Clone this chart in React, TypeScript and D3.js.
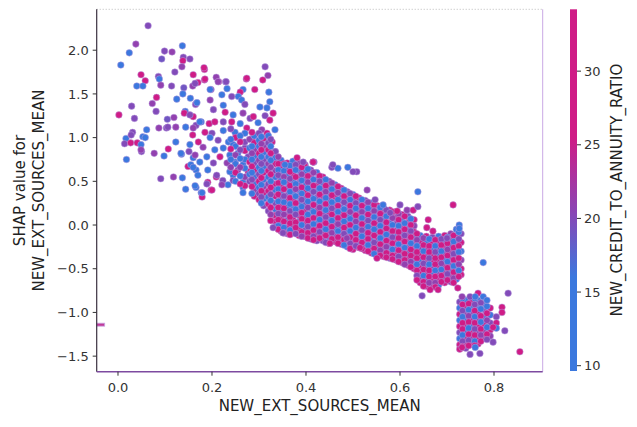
import React, { useEffect, useRef } from 'react';
import * as d3 from 'd3';

// [NEW_EXT_SOURCES_MEAN, SHAP value, NEW_CREDIT_TO_ANNUITY_RATIO]
const sparsePoints: [number, number, number][] = [
  [0.064, 2.28, 20], [0.038, 2.07, 21], [0.024, 1.97, 12], [0.006, 1.83, 13], [0.137, 2.05, 11],
  [0.099, 1.99, 20], [0.115, 1.98, 21], [0.093, 1.9, 19], [0.139, 1.92, 20], [0.153, 1.9, 20],
  [0.138, 1.88, 31], [0.136, 1.81, 21], [0.121, 1.75, 20], [0.184, 1.78, 30], [0.16, 1.72, 29],
  [0.049, 1.72, 32], [0.058, 1.65, 30], [0.086, 1.7, 20], [0.088, 1.67, 14], [0.04, 1.59, 12],
  [0.053, 1.59, 13], [0.091, 1.6, 21], [0.114, 1.59, 20], [0.14, 1.57, 19], [0.159, 1.59, 21],
  [0.17, 1.63, 30], [0.184, 1.66, 31], [0.198, 1.55, 20], [0.209, 1.69, 21], [0.214, 1.64, 29],
  [0.229, 1.64, 20], [0.273, 1.67, 30], [0.082, 1.46, 31], [0.138, 1.5, 12], [0.154, 1.45, 11],
  [0.125, 1.44, 13], [0.029, 1.36, 20], [0.073, 1.39, 21], [0.081, 1.3, 20], [0.002, 1.26, 30],
  [0.035, 1.22, 20], [0.087, 1.11, 21], [0.103, 1.11, 20], [0.105, 1.21, 19], [0.119, 1.23, 21],
  [0.143, 1.3, 12], [0.165, 1.38, 20], [0.061, 1.09, 12], [0.053, 1.01, 11], [0.058, 1.0, 13],
  [0.031, 1.06, 20], [0.017, 0.99, 12], [0.014, 0.93, 20], [0.027, 0.94, 31], [0.041, 0.94, 30],
  [0.049, 0.92, 12], [0.05, 0.84, 20], [0.077, 0.82, 21], [0.107, 0.87, 30], [0.098, 0.79, 12],
  [0.018, 0.75, 11], [0.135, 0.81, 13], [0.091, 0.53, 20], [0.118, 0.55, 21], [0.137, 0.54, 12],
  [0.144, 0.41, 13], [0.149, 0.67, 30], [0.141, 1.28, 30], [0.144, 1.12, 12], [0.16, 1.24, 31],
  [0.166, 1.14, 20], [0.177, 1.18, 12], [0.194, 1.16, 30], [0.106, 1.12, 20], [0.123, 1.12, 21],
  [0.028, 1.03, 20], [0.049, 0.86, 21], [0.123, 0.95, 12], [0.134, 0.82, 12], [0.151, 0.84, 20],
  [0.16, 0.77, 12], [0.155, 0.69, 13], [0.166, 0.63, 12], [0.17, 0.57, 11], [0.166, 0.43, 12],
  [0.177, 0.37, 12], [0.179, 0.32, 30], [0.191, 0.49, 31], [0.198, 0.4, 30], [0.209, 0.55, 29],
  [0.223, 0.51, 20], [0.234, 0.46, 12], [0.245, 0.57, 12], [0.266, 0.49, 13], [0.279, 0.59, 20],
  [0.294, 0.42, 12], [0.315, 0.31, 12], [0.332, 0.4, 21], [0.372, 0.55, 20],
  [0.183, 1.8, 30], [0.313, 1.81, 20], [0.319, 1.71, 21], [0.274, 1.68, 31], [0.308, 1.66, 30],
  [0.23, 1.64, 20], [0.185, 1.67, 30], [0.164, 1.62, 20], [0.213, 1.64, 21], [0.291, 1.55, 31],
  [0.321, 1.52, 12], [0.266, 1.55, 12], [0.26, 1.52, 30], [0.232, 1.56, 12], [0.196, 1.55, 13],
  [0.221, 1.49, 12], [0.242, 1.47, 20], [0.256, 1.47, 12], [0.263, 1.43, 11], [0.323, 1.41, 12],
  [0.196, 1.43, 21], [0.168, 1.4, 12], [0.224, 1.37, 12], [0.27, 1.38, 20], [0.302, 1.35, 12],
  [0.317, 1.34, 13], [0.33, 1.28, 30], [0.203, 1.32, 20], [0.228, 1.29, 30], [0.245, 1.26, 12],
  [0.266, 1.28, 21], [0.281, 1.22, 20], [0.288, 1.24, 31], [0.313, 1.25, 20], [0.323, 1.2, 30],
  [0.153, 1.26, 20], [0.174, 1.18, 12], [0.206, 1.18, 30], [0.224, 1.18, 20], [0.242, 1.18, 31],
  [0.26, 1.16, 12], [0.298, 1.17, 12], [0.274, 1.11, 30], [0.16, 1.11, 21], [0.185, 1.06, 30],
  [0.2, 1.05, 20], [0.224, 1.08, 12], [0.249, 1.06, 13], [0.306, 1.09, 21], [0.334, 1.09, 12],
  [0.317, 1.05, 30], [0.159, 1.03, 31], [0.196, 1.0, 12], [0.213, 0.97, 20], [0.235, 0.95, 12],
  [0.257, 0.99, 12], [0.285, 0.99, 30], [0.302, 0.95, 20], [0.328, 0.95, 31], [0.171, 0.95, 30],
  [0.153, 0.92, 12], [0.181, 0.89, 21], [0.206, 0.86, 12], [0.224, 0.88, 13], [0.245, 0.92, 12],
  [0.27, 0.88, 20], [0.291, 0.9, 21], [0.313, 0.86, 20], [0.334, 0.84, 20], [0.164, 0.8, 21],
  [0.189, 0.78, 12], [0.217, 0.78, 30], [0.238, 0.8, 12], [0.255, 0.82, 11], [0.277, 0.78, 20],
  [0.298, 0.78, 31], [0.323, 0.78, 30], [0.174, 0.72, 12], [0.203, 0.71, 20], [0.232, 0.71, 21],
  [0.249, 0.72, 12], [0.266, 0.69, 12], [0.288, 0.71, 13], [0.309, 0.71, 20], [0.334, 0.72, 12],
  [0.16, 0.66, 12], [0.191, 0.63, 12], [0.21, 0.57, 20], [0.238, 0.61, 12], [0.255, 0.63, 21],
  [0.277, 0.61, 30], [0.298, 0.61, 12], [0.319, 0.63, 12], [0.359, 0.66, 20], [0.38, 0.74, 30],
  [0.398, 0.69, 21], [0.417, 0.72, 20], [0.245, 0.51, 20], [0.266, 0.43, 12], [0.288, 0.54, 21],
  [0.306, 0.51, 12], [0.328, 0.54, 20], [0.164, 0.45, 12], [0.189, 0.47, 20], [0.2, 0.4, 30],
  [0.221, 0.46, 21], [0.266, 0.37, 12], [0.179, 0.37, 13], [0.313, 0.31, 12],
];

// dense columns: [ext mean, shap values, credit/annuity ratios]
const coreColumns: [number, number[], number[]][] = [
  [0.25, [1.0, 0.9, 0.8, 0.7, 0.6, 0.5], [30, 12, 21, 12, 31, 12]],
  [0.27, [1.05, 0.95, 0.85, 0.75, 0.65, 0.55, 0.45], [12, 20, 30, 12, 12, 21, 30]],
  [0.28, [0.98, 0.88, 0.72, 0.58, 0.5], [21, 12, 30, 12, 20]],
  [0.29, [1.02, 0.94, 0.86, 0.79, 0.71, 0.63, 0.55, 0.47, 0.4, 0.33], [12, 30, 21, 12, 20, 30, 12, 13, 21, 30]],
  [0.3, [1.05, 0.97, 0.9, 0.82, 0.74, 0.66, 0.58, 0.5, 0.43, 0.36, 0.29], [20, 12, 12, 30, 21, 12, 20, 31, 12, 20, 30]],
  [0.31, [0.99, 0.91, 0.83, 0.75, 0.67, 0.6, 0.52, 0.44, 0.37, 0.3, 0.22], [30, 21, 12, 20, 12, 30, 12, 21, 30, 12, 20]],
  [0.32, [1.02, 0.94, 0.86, 0.78, 0.7, 0.62, 0.55, 0.47, 0.39, 0.32, 0.24, 0.16], [12, 20, 30, 12, 21, 31, 12, 20, 30, 12, 31, 20]],
  [0.335, [0.84, 0.77, 0.7, 0.62, 0.55, 0.47, 0.4, 0.33, 0.25, 0.18, 0.11, 0.04, -0.02], [20, 12, 30, 21, 12, 31, 13, 29, 20, 12, 30, 31, 20]],
  [0.347, [0.74, 0.67, 0.6, 0.52, 0.45, 0.38, 0.3, 0.23, 0.16, 0.08, 0.01, -0.07], [12, 30, 20, 13, 31, 12, 20, 30, 12, 29, 21, 30]],
  [0.36, [0.71, 0.64, 0.56, 0.49, 0.42, 0.34, 0.27, 0.2, 0.12, 0.05, -0.03, -0.1], [30, 21, 12, 30, 12, 20, 31, 12, 30, 12, 31, 20]],
  [0.372, [0.73, 0.66, 0.59, 0.51, 0.44, 0.37, 0.29, 0.22, 0.15, 0.07, 0.0, -0.08], [12, 20, 30, 12, 21, 12, 30, 13, 12, 30, 20, 31]],
  [0.385, [0.7, 0.62, 0.55, 0.48, 0.4, 0.33, 0.26, 0.18, 0.11, 0.04, -0.04, -0.12], [21, 12, 31, 20, 12, 30, 12, 21, 30, 12, 31, 30]],
  [0.398, [0.67, 0.6, 0.52, 0.45, 0.38, 0.3, 0.23, 0.16, 0.08, 0.01, -0.06, -0.13], [30, 12, 20, 12, 31, 12, 20, 30, 12, 29, 20, 30]],
  [0.41, [0.63, 0.56, 0.49, 0.41, 0.34, 0.27, 0.19, 0.12, 0.05, -0.03, -0.1, -0.16], [20, 30, 12, 21, 12, 30, 13, 20, 30, 12, 31, 20]],
  [0.423, [0.6, 0.52, 0.45, 0.38, 0.31, 0.23, 0.16, 0.09, 0.02, -0.05, -0.12, -0.18], [12, 21, 30, 12, 20, 12, 30, 21, 12, 30, 31, 20]],
  [0.436, [0.55, 0.48, 0.41, 0.33, 0.26, 0.19, 0.12, 0.04, -0.03, -0.1, -0.18], [30, 12, 20, 31, 12, 12, 21, 30, 12, 30, 20]],
  [0.449, [0.5, 0.43, 0.36, 0.29, 0.22, 0.14, 0.07, 0.0, -0.07, -0.14, -0.21], [20, 30, 12, 21, 12, 30, 12, 20, 31, 12, 30]],
  [0.462, [0.46, 0.39, 0.32, 0.25, 0.17, 0.1, 0.03, -0.04, -0.11, -0.19], [12, 20, 30, 12, 21, 12, 30, 13, 20, 30]],
  [0.475, [0.42, 0.35, 0.28, 0.2, 0.13, 0.06, -0.02, -0.09, -0.16, -0.22], [30, 12, 20, 12, 30, 21, 12, 30, 20, 31]],
  [0.488, [0.38, 0.31, 0.24, 0.17, 0.09, 0.02, -0.05, -0.12, -0.19, -0.25], [20, 30, 12, 21, 12, 30, 13, 20, 30, 12]],
  [0.5, [0.35, 0.28, 0.21, 0.13, 0.06, -0.01, -0.08, -0.15, -0.22, -0.28], [12, 21, 30, 12, 20, 30, 12, 21, 30, 31]],
  [0.513, [0.31, 0.24, 0.17, 0.1, 0.03, -0.05, -0.12, -0.19, -0.26], [30, 12, 20, 31, 12, 20, 30, 12, 30]],
  [0.526, [0.28, 0.21, 0.14, 0.06, -0.01, -0.08, -0.15, -0.22, -0.29], [20, 30, 12, 21, 30, 12, 31, 20, 30]],
  [0.539, [0.25, 0.18, 0.11, 0.03, -0.04, -0.11, -0.18, -0.25, -0.32], [12, 20, 30, 12, 30, 21, 12, 30, 31]],
  [0.552, [0.22, 0.15, 0.08, 0.0, -0.07, -0.14, -0.21, -0.28, -0.35], [30, 12, 21, 30, 12, 30, 20, 12, 30]],
  [0.565, [0.19, 0.12, 0.05, -0.03, -0.1, -0.17, -0.24, -0.31, -0.36], [21, 30, 12, 20, 30, 12, 31, 20, 30]],
  [0.578, [0.17, 0.1, 0.02, -0.05, -0.12, -0.19, -0.26, -0.33, -0.38], [30, 20, 12, 30, 21, 30, 12, 30, 20]],
  [0.591, [0.15, 0.08, 0.01, -0.07, -0.14, -0.21, -0.28, -0.35, -0.4], [12, 30, 21, 30, 12, 30, 20, 31, 30]],
  [0.604, [0.12, 0.05, -0.02, -0.09, -0.16, -0.23, -0.3, -0.37, -0.43], [30, 12, 30, 20, 31, 12, 30, 21, 30]],
  [0.617, [0.1, 0.03, -0.05, -0.12, -0.19, -0.26, -0.33, -0.4, -0.46], [20, 30, 12, 30, 21, 30, 12, 30, 31]],
  [0.63, [0.06, -0.01, -0.08, -0.15, -0.22, -0.29, -0.36, -0.43, -0.5], [30, 21, 30, 12, 30, 20, 31, 12, 30]],
  [0.643, [-0.12, -0.19, -0.26, -0.33, -0.4, -0.47, -0.54, -0.61, -0.66], [12, 30, 20, 30, 12, 31, 30, 21, 30]],
  [0.656, [-0.13, -0.2, -0.27, -0.34, -0.41, -0.48, -0.55, -0.62, -0.7], [30, 12, 31, 21, 30, 12, 30, 20, 31]],
  [0.669, [-0.14, -0.21, -0.28, -0.35, -0.42, -0.49, -0.56, -0.63, -0.7], [20, 30, 12, 30, 31, 20, 12, 30, 30]],
  [0.682, [-0.13, -0.2, -0.27, -0.34, -0.41, -0.48, -0.55, -0.62, -0.69], [12, 31, 20, 12, 30, 30, 21, 30, 12]],
  [0.695, [-0.12, -0.19, -0.26, -0.33, -0.4, -0.47, -0.54, -0.61, -0.66], [30, 12, 30, 21, 12, 30, 31, 20, 30]],
  [0.708, [-0.1, -0.17, -0.24, -0.31, -0.38, -0.45, -0.52, -0.59, -0.65], [21, 30, 12, 30, 20, 31, 12, 30, 21]],
  [0.72, [-0.05, -0.13, -0.2, -0.27, -0.34, -0.41, -0.48, -0.55, -0.62], [12, 30, 20, 12, 31, 30, 20, 30, 12]],
  [0.73, [-0.1, -0.2, -0.3, -0.4, -0.5, -0.57], [20, 30, 12, 21, 30, 31]],
  [0.727, [-0.88, -0.95, -1.02, -1.09, -1.16, -1.23, -1.3, -1.37, -1.42], [20, 12, 30, 12, 31, 20, 12, 30, 31]],
  [0.74, [-0.86, -0.93, -1.0, -1.07, -1.14, -1.21, -1.28, -1.35, -1.41], [12, 30, 21, 12, 30, 12, 31, 30, 20]],
  [0.753, [-0.87, -0.94, -1.01, -1.08, -1.15, -1.22, -1.29, -1.36], [30, 12, 20, 30, 12, 30, 21, 30]],
  [0.766, [-0.86, -0.93, -1.0, -1.08, -1.15, -1.23, -1.3, -1.36], [12, 12, 30, 21, 30, 20, 30, 31]],
  [0.779, [-0.9, -0.97, -1.05, -1.13, -1.22, -1.3], [12, 20, 12, 30, 21, 30]],
  [0.792, [-0.95, -1.03, -1.12, -1.2, -1.27], [30, 12, 20, 30, 21]],
  [0.805, [-1.05, -1.12, -1.18], [20, 30, 12]],
];

// second pass over the same dense areas, between the columns above
const fillColumns: [number, number[], number[]][] = [
  [0.24, [1.1, 0.98, 0.87, 0.75, 0.66], [20, 12, 30, 12, 21]],
  [0.26, [1.02, 0.95, 0.86, 0.76, 0.66, 0.56, 0.47], [12, 30, 20, 12, 21, 12, 30]],
  [0.285, [1.06, 0.9, 0.82, 0.75, 0.67, 0.6, 0.52, 0.44, 0.36], [30, 12, 21, 12, 30, 12, 20, 31, 12]],
  [0.305, [1.01, 0.93, 0.86, 0.78, 0.7, 0.62, 0.54, 0.46, 0.39, 0.32, 0.25], [12, 21, 30, 12, 20, 12, 31, 12, 30, 20, 12]],
  [0.325, [0.98, 0.9, 0.82, 0.74, 0.66, 0.58, 0.5, 0.43, 0.35, 0.28, 0.2, 0.12, 0.05], [20, 12, 30, 12, 21, 31, 12, 30, 20, 12, 30, 21, 30]],
  [0.341, [0.78, 0.7, 0.63, 0.57, 0.48, 0.41, 0.35, 0.27, 0.2, 0.13, 0.06, -0.01, -0.05], [21, 30, 12, 20, 30, 12, 31, 12, 30, 20, 30, 12, 30]],
  [0.353, [0.7, 0.62, 0.55, 0.49, 0.41, 0.33, 0.26, 0.19, 0.12, 0.04, -0.03, -0.09], [30, 12, 21, 12, 30, 20, 12, 30, 21, 30, 12, 31]],
  [0.366, [0.68, 0.61, 0.53, 0.45, 0.38, 0.31, 0.24, 0.16, 0.09, 0.02, -0.06, -0.11], [12, 30, 20, 31, 12, 30, 12, 20, 30, 31, 12, 30]],
  [0.378, [0.69, 0.63, 0.55, 0.47, 0.41, 0.33, 0.25, 0.18, 0.12, 0.03, -0.03, -0.1], [20, 12, 30, 12, 21, 12, 30, 12, 20, 30, 31, 20]],
  [0.391, [0.66, 0.58, 0.51, 0.43, 0.36, 0.29, 0.21, 0.14, 0.07, 0.0, -0.08, -0.13], [30, 21, 12, 30, 12, 20, 12, 30, 31, 12, 30, 21]],
  [0.404, [0.64, 0.56, 0.49, 0.42, 0.34, 0.27, 0.2, 0.12, 0.05, -0.02, -0.09, -0.15], [12, 30, 21, 12, 30, 12, 21, 12, 30, 20, 31, 30]],
  [0.416, [0.6, 0.52, 0.45, 0.38, 0.3, 0.23, 0.15, 0.08, 0.01, -0.06, -0.13, -0.17], [21, 12, 30, 20, 12, 31, 12, 30, 12, 30, 20, 31]],
  [0.429, [0.56, 0.5, 0.42, 0.35, 0.27, 0.2, 0.13, 0.06, -0.01, -0.08, -0.15], [30, 20, 12, 30, 12, 21, 30, 12, 31, 20, 30]],
  [0.442, [0.52, 0.45, 0.38, 0.31, 0.24, 0.17, 0.09, 0.02, -0.05, -0.12, -0.2], [12, 30, 21, 12, 30, 12, 20, 31, 12, 30, 20]],
  [0.455, [0.48, 0.41, 0.34, 0.26, 0.19, 0.12, 0.05, -0.02, -0.09, -0.16], [21, 12, 30, 12, 20, 31, 12, 30, 21, 30]],
  [0.468, [0.44, 0.37, 0.29, 0.22, 0.15, 0.08, 0.01, -0.07, -0.14, -0.21], [30, 21, 12, 30, 12, 30, 21, 12, 30, 31]],
  [0.481, [0.4, 0.33, 0.26, 0.18, 0.11, 0.04, -0.03, -0.1, -0.17, -0.23], [12, 30, 20, 12, 31, 12, 30, 20, 30, 12]],
  [0.494, [0.36, 0.29, 0.22, 0.15, 0.07, 0.0, -0.07, -0.14, -0.21, -0.27], [20, 12, 30, 21, 12, 30, 12, 31, 20, 30]],
  [0.506, [0.33, 0.25, 0.19, 0.11, 0.04, -0.03, -0.1, -0.17, -0.24], [30, 20, 12, 30, 21, 12, 30, 31, 20]],
  [0.519, [0.29, 0.22, 0.15, 0.08, 0.01, -0.06, -0.13, -0.2, -0.27], [12, 30, 21, 12, 30, 20, 12, 30, 31]],
  [0.532, [0.26, 0.19, 0.12, 0.05, -0.02, -0.09, -0.16, -0.23, -0.3], [21, 12, 30, 20, 12, 31, 30, 12, 30]],
  [0.545, [0.23, 0.16, 0.09, 0.02, -0.05, -0.12, -0.2, -0.27, -0.33], [30, 21, 12, 30, 12, 30, 20, 31, 12]],
  [0.558, [0.2, 0.13, 0.06, -0.01, -0.08, -0.15, -0.22, -0.29, -0.35], [12, 30, 20, 12, 31, 12, 30, 21, 30]],
  [0.571, [0.17, 0.1, 0.03, -0.04, -0.11, -0.18, -0.25, -0.32, -0.37], [20, 12, 31, 30, 12, 30, 21, 30, 31]],
  [0.584, [0.15, 0.08, 0.0, -0.07, -0.14, -0.21, -0.28, -0.35, -0.39], [30, 21, 12, 30, 20, 31, 12, 30, 30]],
  [0.597, [0.13, 0.06, -0.01, -0.08, -0.15, -0.22, -0.29, -0.36, -0.42], [21, 30, 12, 31, 30, 12, 30, 20, 30]],
  [0.61, [0.1, 0.02, -0.05, -0.12, -0.19, -0.26, -0.33, -0.4, -0.45], [30, 12, 31, 20, 30, 12, 30, 31, 21]],
  [0.623, [0.07, 0.0, -0.07, -0.14, -0.21, -0.28, -0.35, -0.42, -0.48], [12, 30, 20, 30, 12, 31, 30, 21, 30]],
  [0.636, [-0.1, -0.17, -0.24, -0.31, -0.38, -0.45, -0.52, -0.58, -0.63], [30, 21, 12, 30, 30, 12, 31, 20, 30]],
  [0.65, [-0.15, -0.23, -0.3, -0.37, -0.44, -0.51, -0.58, -0.65, -0.7], [21, 30, 12, 30, 20, 31, 12, 30, 30]],
  [0.662, [-0.16, -0.24, -0.31, -0.38, -0.45, -0.52, -0.59, -0.66], [12, 30, 31, 20, 12, 30, 30, 21]],
  [0.675, [-0.17, -0.24, -0.31, -0.38, -0.45, -0.52, -0.59, -0.66, -0.71], [30, 12, 20, 31, 30, 12, 30, 21, 30]],
  [0.688, [-0.16, -0.23, -0.3, -0.37, -0.44, -0.51, -0.58, -0.65], [20, 30, 12, 30, 21, 12, 31, 30]],
  [0.701, [-0.14, -0.21, -0.28, -0.35, -0.42, -0.49, -0.56, -0.63], [12, 30, 21, 30, 12, 31, 20, 30]],
  [0.714, [-0.12, -0.19, -0.26, -0.33, -0.4, -0.47, -0.54, -0.61, -0.66], [30, 12, 30, 20, 31, 12, 30, 21, 30]],
  [0.725, [-0.08, -0.16, -0.24, -0.31, -0.38, -0.45, -0.52, -0.59], [12, 20, 30, 12, 30, 21, 12, 30]],
  [0.733, [-0.84, -0.91, -0.98, -1.05, -1.12, -1.19, -1.26, -1.33, -1.39], [12, 30, 20, 12, 30, 31, 12, 20, 30]],
  [0.746, [-0.9, -0.97, -1.04, -1.11, -1.18, -1.25, -1.32, -1.38], [30, 12, 21, 30, 12, 30, 20, 31]],
  [0.759, [-0.84, -0.91, -0.98, -1.05, -1.12, -1.19, -1.26, -1.33, -1.38], [12, 20, 30, 12, 31, 20, 30, 12, 30]],
  [0.772, [-0.89, -0.96, -1.04, -1.11, -1.19, -1.26, -1.33], [20, 12, 30, 12, 31, 21, 30]],
  [0.785, [-0.93, -1.01, -1.09, -1.17, -1.25, -1.31], [12, 30, 21, 12, 30, 20]],
];

// isolated points around the dense band and the two blocks
const edgePoints: [number, number, number][] = [
  [0.355, 0.69, 12], [0.381, 0.77, 30], [0.394, 0.72, 20], [0.415, 0.72, 21], [0.455, 0.66, 20],
  [0.468, 0.65, 12], [0.489, 0.66, 12], [0.508, 0.61, 20], [0.53, 0.4, 21], [0.547, 0.29, 20],
  [0.564, 0.23, 12], [0.579, 0.14, 20], [0.594, 0.16, 30], [0.415, 0.72, 30], [0.457, 0.69, 20],
  [0.5, 0.61, 20], [0.451, -0.21, 30], [0.515, -0.26, 31], [0.551, -0.38, 30], [0.351, -0.09, 20],
  [0.487, -0.15, 21], [0.33, -0.03, 20], [0.6, 0.23, 20], [0.615, 0.17, 21], [0.628, 0.17, 30],
  [0.638, 0.21, 20], [0.66, 0.06, 30], [0.657, -0.03, 31], [0.67, -0.07, 30], [0.7, -0.15, 20],
  [0.726, 0.0, 12], [0.726, -0.04, 12], [0.647, -0.81, 20], [0.664, -0.74, 30], [0.681, -0.74, 31],
  [0.723, -0.72, 30], [0.766, -0.78, 30], [0.749, -0.82, 20], [0.732, -0.82, 21], [0.777, -0.82, 12],
  [0.785, -0.86, 12], [0.76, -0.82, 12], [0.732, -1.4, 30], [0.749, -1.48, 20], [0.76, -1.4, 12],
  [0.77, -1.47, 20], [0.713, 0.23, 30], [0.777, -0.43, 12], [0.83, -0.78, 20], [0.823, -1.21, 20],
  [0.855, -1.45, 30], [0.817, -0.94, 30], [0.817, -1.0, 31], [0.798, -1.17, 30], [0.798, -1.34, 20],
  [0.638, 0.38, 12],
];

const xTicks = [0.0, 0.2, 0.4, 0.6, 0.8];
const yTicks = [-1.5, -1.0, -0.5, 0.0, 0.5, 1.0, 1.5, 2.0];
const colorTicks = [10, 15, 20, 25, 30];
const nanShap = -1.14;

const W = 637;
const H = 427;
const FONT = 'DejaVu Sans, sans-serif';

const App = () => {
  const ref = useRef<SVGSVGElement | null>(null);

  useEffect(() => {
    if (!ref.current) return;
    const svg = d3.select(ref.current);
    svg.selectAll('*').remove();

    const left = 96.7, right = 542.7, top = 9.3, bottom = 371.7;
    const x = d3.scaleLinear().domain([-0.0453, 0.9036]).range([left, right]);
    const y = d3.scaleLinear().domain([-1.678, 2.468]).range([bottom, top]);
    const color = d3.scaleLinear<string>()
      .domain([16, 20.5, 25.5])
      .range(['#3b78de', '#8b45b4', '#cf1c86'])
      .clamp(true);

    const points: [number, number, number][] = [...sparsePoints];
    coreColumns.forEach(([cx, ys, cs]) => ys.forEach((v, i) => points.push([cx, v, cs[i]])));
    fillColumns.forEach(([cx, ys, cs]) => ys.forEach((v, i) => points.push([cx, v, cs[i]])));
    points.push(...edgePoints);

    const defs = svg.append('defs');
    defs.append('clipPath').attr('id', 'plot-clip')
      .append('rect').attr('x', left).attr('y', top).attr('width', right - left).attr('height', bottom - top);

    // frame
    svg.append('line').attr('x1', left).attr('x2', right).attr('y1', top).attr('y2', top)
      .attr('stroke', '#bbb').attr('stroke-dasharray', '1,2');
    svg.append('line').attr('x1', right).attr('x2', right).attr('y1', top).attr('y2', bottom)
      .attr('stroke', '#c9a8e4');

    const g = svg.append('g').attr('clip-path', 'url(#plot-clip)');
    g.selectAll('circle')
      .data(points)
      .enter()
      .append('circle')
      .attr('cx', (d) => x(d[0]))
      .attr('cy', (d) => y(d[1]))
      .attr('r', 3.3)
      .attr('fill', (d) => color(d[2]))
      .attr('stroke', '#b99be0')
      .attr('stroke-opacity', 0.5)
      .attr('stroke-width', 1);

    // value outside the x range, drawn at the left edge
    svg.append('rect').attr('x', left).attr('y', y(nanShap) - 1.5).attr('width', 8).attr('height', 3)
      .attr('fill', '#c13a9a').attr('stroke', '#c9a8e4').attr('stroke-width', 0.8);

    // spines
    svg.append('line').attr('x1', left).attr('x2', left).attr('y1', top).attr('y2', bottom)
      .attr('stroke', '#3a3040').attr('stroke-width', 1.2);
    svg.append('line').attr('x1', left).attr('x2', right).attr('y1', bottom).attr('y2', bottom)
      .attr('stroke', '#7d4aa0').attr('stroke-width', 1.4);

    const axisText = '#333';
    yTicks.forEach((t) => {
      svg.append('line').attr('x1', left - 4).attr('x2', left).attr('y1', y(t)).attr('y2', y(t)).attr('stroke', axisText);
      svg.append('text').attr('x', left - 8).attr('y', y(t)).attr('dy', '0.36em')
        .attr('text-anchor', 'end').attr('font-family', FONT).attr('font-size', 13).attr('fill', axisText)
        .text(d3.format('.1f')(t).replace('-', '\u2212'));
    });
    xTicks.forEach((t) => {
      svg.append('line').attr('x1', x(t)).attr('x2', x(t)).attr('y1', bottom).attr('y2', bottom + 4).attr('stroke', axisText);
      svg.append('text').attr('x', x(t)).attr('y', 391.5)
        .attr('text-anchor', 'middle').attr('font-family', FONT).attr('font-size', 13).attr('fill', axisText)
        .text(d3.format('.1f')(t));
    });

    svg.append('text').attr('x', (left + right) / 2).attr('y', 411)
      .attr('text-anchor', 'middle').attr('font-family', FONT).attr('font-size', 15).attr('fill', '#222')
      .text('NEW_EXT_SOURCES_MEAN');
    const yl = svg.append('text').attr('transform', `translate(25,${(top + bottom) / 2}) rotate(-90)`)
      .attr('text-anchor', 'middle').attr('font-family', FONT).attr('font-size', 15).attr('fill', '#222');
    yl.append('tspan').attr('x', 0).attr('y', 0).text('SHAP value for');
    yl.append('tspan').attr('x', 0).attr('y', 18.5).text('NEW_EXT_SOURCES_MEAN');

    // colorbar
    const cTop = 9.3, cBottom = 371, cLeft = 570, cWidth = 7;
    const cScale = d3.scaleLinear().domain([9.64, 34.2]).range([cBottom, cTop]);
    const grad = defs.append('linearGradient').attr('id', 'cbar').attr('x1', 0).attr('x2', 0).attr('y1', 1).attr('y2', 0);
    [9.64, 16, 20.5, 25.5, 34.2].forEach((v) => {
      grad.append('stop').attr('offset', (v - 9.64) / (34.2 - 9.64)).attr('stop-color', color(v));
    });
    svg.append('rect').attr('x', cLeft).attr('y', cTop).attr('width', cWidth).attr('height', cBottom - cTop)
      .attr('fill', 'url(#cbar)');
    colorTicks.forEach((t) => {
      svg.append('line').attr('x1', cLeft + cWidth).attr('x2', cLeft + cWidth + 4)
        .attr('y1', cScale(t)).attr('y2', cScale(t)).attr('stroke', axisText);
      svg.append('text').attr('x', cLeft + cWidth + 7).attr('y', cScale(t)).attr('dy', '0.36em')
        .attr('font-family', FONT).attr('font-size', 13).attr('fill', axisText).text(t);
    });
    svg.append('text').attr('transform', `translate(622,${(cTop + cBottom) / 2}) rotate(-90)`)
      .attr('text-anchor', 'middle').attr('font-family', FONT).attr('font-size', 15).attr('fill', '#222')
      .text('NEW_CREDIT_TO_ANNUITY_RATIO');
  }, []);

  return (
    <svg ref={ref} width={W} height={H}
      style={{ position: 'absolute', left: 0, top: 0, background: '#fff' }} />
  );
};

export default App;
